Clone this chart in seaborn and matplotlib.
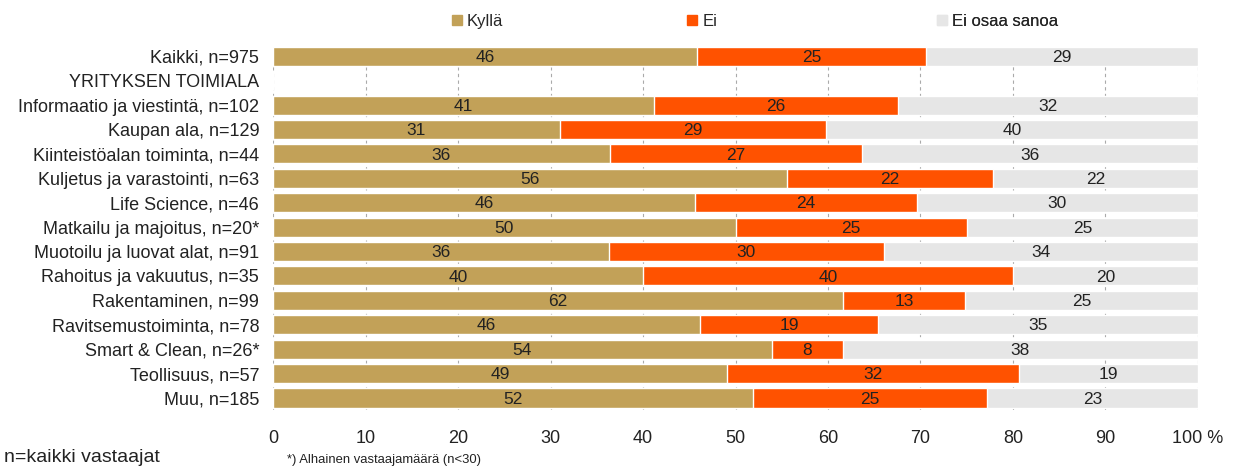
import numpy as np
import pandas as pd
import matplotlib
matplotlib.use('Agg')
import matplotlib.pyplot as plt
import matplotlib.patches as mpatches
import seaborn as sns

# categories (the group header row has no bar)
categories = ['Kaikki, n=975', 'YRITYKSEN TOIMIALA', 'Informaatio ja viestintä, n=102',
              'Kaupan ala, n=129', 'Kiinteistöalan toiminta, n=44', 'Kuljetus ja varastointi, n=63',
              'Life Science, n=46', 'Matkailu ja majoitus, n=20*', 'Muotoilu ja luovat alat, n=91',
              'Rahoitus ja vakuutus, n=35', 'Rakentaminen, n=99', 'Ravitsemustoiminta, n=78',
              'Smart & Clean, n=26*', 'Teollisuus, n=57', 'Muu, n=185']
kylla = [45.8, 0, 41.2, 31.0, 36.4, 55.6, 45.6, 50.0, 36.3, 40.0, 61.6, 46.2, 53.9, 49.1, 51.9]
ei = [24.8, 0, 26.4, 28.8, 27.3, 22.2, 24.0, 25.0, 29.7, 40.0, 13.2, 19.2, 7.7, 31.6, 25.3]
eos = [29.4, 0, 32.4, 40.2, 36.3, 22.2, 30.4, 25.0, 34.0, 20.0, 25.2, 34.6, 38.4, 19.3, 22.8]
header_rows = [1]
series_names = ['Kyllä', 'Ei', 'Ei osaa sanoa']
colors = ['#C2A158', '#FF5200', '#E6E6E6']

df = pd.DataFrame({'cat': categories, 'Kyllä': kylla, 'Ei': ei, 'Ei osaa sanoa': eos})
df['c1'] = df['Kyllä']
df['c2'] = df['Kyllä'] + df['Ei']
df['c3'] = df['c2'] + df['Ei osaa sanoa']

sns.set_theme(style='white')
plt.rcParams['font.family'] = ['Liberation Sans', 'DejaVu Sans']

fig = plt.figure(figsize=(12.44, 4.68), dpi=100)
ax = fig.add_axes([0.2195, 0.1235, 0.7435, 0.7825])

# overlapping cumulative bars give the stacked look
for col, c in zip(['c3', 'c2', 'c1'], colors[::-1]):
    sns.barplot(data=df, x=col, y='cat', order=categories, color=c, width=0.78,
                saturation=1, ax=ax, zorder=2)

# segment labels
starts = [np.zeros(len(df)), df['c1'].values, df['c2'].values]
for vals, st in zip([df['Kyllä'].values, df['Ei'].values, df['Ei osaa sanoa'].values], starts):
    for i, (v, s) in enumerate(zip(vals, st)):
        if i in header_rows or v <= 0:
            continue
        ax.text(s + v / 2, i + 0.05, f'{v:.0f}', ha='center', va='center',
                fontsize=12.5, color='#222222', zorder=3)

ax.set_xlim(0, 100)
ax.set_ylim(len(categories) - 0.5, -0.5)
ax.set_xticks(range(0, 101, 10))
ax.set_xticklabels([str(t) for t in range(0, 100, 10)] + ['100 %'])
ax.xaxis.grid(True, linestyle=(0, (3, 3)), color='#AAAAAA', linewidth=0.8, zorder=0)
ax.set_axisbelow(True)
ax.set_xlabel('')
ax.set_ylabel('')
for sp in ax.spines.values():
    sp.set_visible(False)
ax.tick_params(axis='y', length=0, pad=10, labelsize=13, labelcolor='#222222')
ax.tick_params(axis='x', length=0, pad=14, labelsize=13, labelcolor='#222222')

# legend entries placed individually
legend_x = [0.186, 0.4405, 0.7106]
for name, c, lx in zip(series_names, colors, legend_x):
    h = mpatches.Patch(color=c, label=name)
    leg = ax.legend(handles=[h], loc='center left', bbox_to_anchor=(lx, 1.062),
                    frameon=False, fontsize=12, handlelength=0.6, handleheight=0.6,
                    handletextpad=0.3, borderaxespad=0)
    ax.add_artist(leg)

fig.text(0.003, 0.022, 'n=kaikki vastaajat', fontsize=14, color='#222222', va='center')
fig.text(0.231, 0.018, '*) Alhainen vastaajamäärä (n<30)', fontsize=9.4, color='#222222', va='center')

fig.savefig('out.png', dpi=100)
